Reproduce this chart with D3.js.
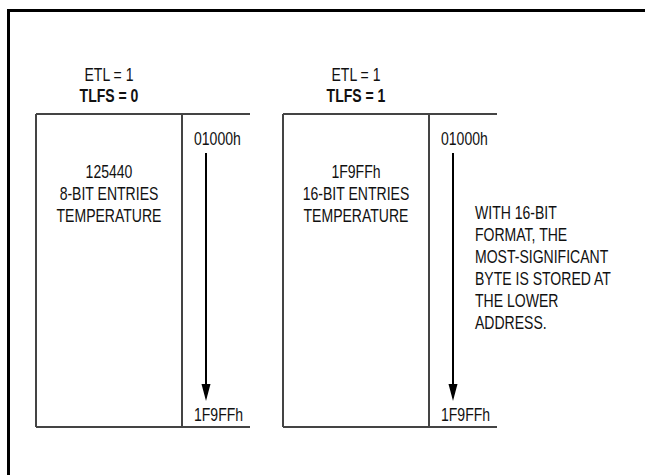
<!DOCTYPE html>
<html lang="en">
<head>
  <meta charset="UTF-8">
  <title>ETL / TLFS memory layout</title>
  <style>
    body { margin: 0; background: #fff; }
    svg text { font-family: "Liberation Sans", Arial, sans-serif; fill: #111; }
  </style>
</head>
<body>
  <svg class="diagram"></svg>
  <script src="https://cdn.jsdelivr.net/npm/d3@7"></script>
  <script>
    var w = 645,
        h = 475,
        fontSize = 18,
        squeeze = 0.78;

    // data
    var panels = [0, 1];
    var etlLabels = ["ETL = 1", "ETL = 1"];
    var tlfsLabels = ["TLFS = 0", "TLFS = 1"];
    var bodyLines = [
      ["125440", "8-BIT ENTRIES", "TEMPERATURE"],
      ["1F9FFh", "16-BIT ENTRIES", "TEMPERATURE"]
    ];
    var addrLabels = ["01000h", "1F9FFh"];
    var addrValues = [0x01000, 0x1F9FF];
    var noteLines = ["WITH 16-BIT", "FORMAT, THE", "MOST-SIGNIFICANT",
                     "BYTE IS STORED AT", "THE LOWER", "ADDRESS."];

    var svg = d3.select(".diagram")
      .attr("width", w)
      .attr("height", h);

    // outer frame (only top and left visible)
    svg.append("path")
      .attr("d", "M8.5," + h + " V10.5 H" + w)
      .attr("fill", "none")
      .attr("stroke", "#000")
      .attr("stroke-width", 3);

    var x = d3.scaleBand().domain(panels).range([36, 530]).padding(0);
    var boxW = 146, extW = 68, boxTop = 114, boxBottom = 427;
    var y = d3.scaleLinear().domain(addrValues).range([153, 401]);

    function txt(g, s, tx, ty, anchor, bold) {
      g.append("text")
        .attr("transform", "translate(" + tx + "," + ty + ") scale(" + squeeze + ",1)")
        .attr("text-anchor", anchor)
        .attr("font-size", fontSize)
        .attr("font-weight", bold ? "bold" : "normal")
        .text(s);
    }

    var g = svg.selectAll("g.panel")
      .data(panels)
      .enter()
      .append("g")
        .attr("class", "panel")
        .attr("transform", d => "translate(" + x(d) + ",0)");

    g.each(function(d) {
      var p = d3.select(this);
      var cx = boxW / 2;
      // box outline
      p.append("path")
        .attr("d", "M0," + boxTop + " H" + (boxW + extW) +
                   " M0," + boxBottom + " H" + (boxW + extW) +
                   " M0," + boxTop + " V" + boxBottom +
                   " M" + boxW + "," + boxTop + " V" + boxBottom)
        .attr("fill", "none")
        .attr("stroke", "#444")
        .attr("stroke-width", 2);

      txt(p, etlLabels[d], cx, 81, "middle", false);
      txt(p, tlfsLabels[d], cx, 102, "middle", true);

      bodyLines[d].forEach((s, i) => txt(p, s, cx, 178 + i * 22, "middle", false));

      txt(p, addrLabels[0], boxW + 12, 145, "start", false);
      txt(p, addrLabels[1], boxW + 12, 421, "start", false);

      // arrow
      var ax = boxW + 24;
      p.append("line")
        .attr("x1", ax).attr("x2", ax)
        .attr("y1", y(addrValues[0])).attr("y2", y(addrValues[1]) - 14)
        .attr("stroke", "#000")
        .attr("stroke-width", 2);
      p.append("path")
        .attr("d", "M" + (ax - 4.5) + "," + (y(addrValues[1]) - 17) +
                   " L" + (ax + 4.5) + "," + (y(addrValues[1]) - 17) +
                   " L" + ax + "," + y(addrValues[1]) + "Z")
        .attr("fill", "#000");
    });

    var note = svg.append("g");
    noteLines.forEach((s, i) => txt(note, s, 475, 219 + i * 22, "start", false));
  </script>
</body>
</html>
